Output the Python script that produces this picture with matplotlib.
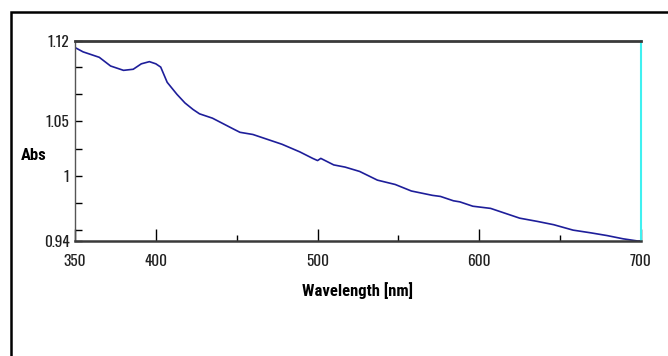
import numpy as np
import matplotlib
matplotlib.use('Agg')
import matplotlib.pyplot as plt
from matplotlib.patches import Rectangle

plt.rcParams['font.family'] = ['Oswald', 'DejaVu Sans']
label_font = ['Roboto Condensed', 'DejaVu Sans']

# Absorbance spectrum
wavelength = [350, 355, 365, 372, 380, 386, 391, 396, 400, 403, 407, 413, 418, 423,
              427, 435, 448, 452, 460, 468, 478, 489, 497, 500, 502, 510, 517, 526,
              537, 548, 558, 571, 576, 580, 584, 588, 596, 607, 615, 625, 636, 646,
              658, 669, 679, 689, 698, 700]
absorb = [1.118, 1.114, 1.109, 1.101, 1.097, 1.098, 1.103, 1.105, 1.103, 1.100,
          1.086, 1.075, 1.067, 1.061, 1.057, 1.053, 1.043, 1.040, 1.038, 1.034,
          1.029, 1.022, 1.016, 1.014, 1.016, 1.010, 1.008, 1.004, 0.996, 0.992,
          0.986, 0.982, 0.981, 0.979, 0.977, 0.976, 0.972, 0.970, 0.966, 0.961,
          0.958, 0.955, 0.950, 0.9475, 0.945, 0.942, 0.940, 0.940]

x_major = [350, 400, 500, 600, 700]
x_minor = [450, 550, 650]
y_major = [0.94, 1.0, 1.05, 1.124]
y_labels = ['0.94', '1', '1.05', '1.12']
y_minor = [0.95, 0.975, 1.025, 1.075, 1.1]

fig = plt.figure(figsize=(6.68, 3.56), dpi=100)
fig.patch.set_facecolor('white')

# outer frame (only left and top edges visible)
fig.add_artist(Rectangle((11/668, -0.2), 2.0, 1.2 - 12/356, transform=fig.transFigure,
                         fill=False, edgecolor='black', lw=1.8))

ax = fig.add_axes([75/668, 1 - 241/356, 566/668, 200/356])
ax.plot(wavelength, absorb, color='#1e1e9a', lw=1.2)

ax.set_xlim(350, 700)
ax.set_ylim(0.94, 1.124)

ax.set_xticks(x_major)
ax.set_xticks(x_minor, minor=True)
ax.set_yticks(y_major)
ax.set_yticklabels(y_labels)
ax.set_yticks(y_minor, minor=True)

ax.tick_params(axis='x', which='major', direction='in', length=9, width=1, pad=9, labelsize=11, color='black')
ax.tick_params(axis='x', which='minor', direction='in', length=4, width=1, color='black')
ax.tick_params(axis='y', which='major', direction='in', length=5, width=1, pad=4, labelsize=11, color='black')
ax.tick_params(axis='y', which='minor', direction='in', length=5, width=1, color='black')
for lab in ax.get_xticklabels() + ax.get_yticklabels():
    lab.set_color('#222222')

ax.spines['top'].set_color('#3a3a3a')
ax.spines['top'].set_linewidth(2.0)
ax.spines['bottom'].set_color('#3a3a3a')
ax.spines['bottom'].set_linewidth(1.8)
ax.spines['left'].set_color('#555555')
ax.spines['left'].set_linewidth(1.0)
ax.spines['right'].set_color('#40f0f0')
ax.spines['right'].set_linewidth(1.5)

ax.set_xlabel('Wavelength [nm]', fontsize=12, fontweight='bold', family=label_font, labelpad=10)
fig.text(34/668, 1 - 155/356, 'Abs', fontsize=12, fontweight='bold', family=label_font,
         ha='center', va='center')

fig.savefig('out.png', dpi=100)
